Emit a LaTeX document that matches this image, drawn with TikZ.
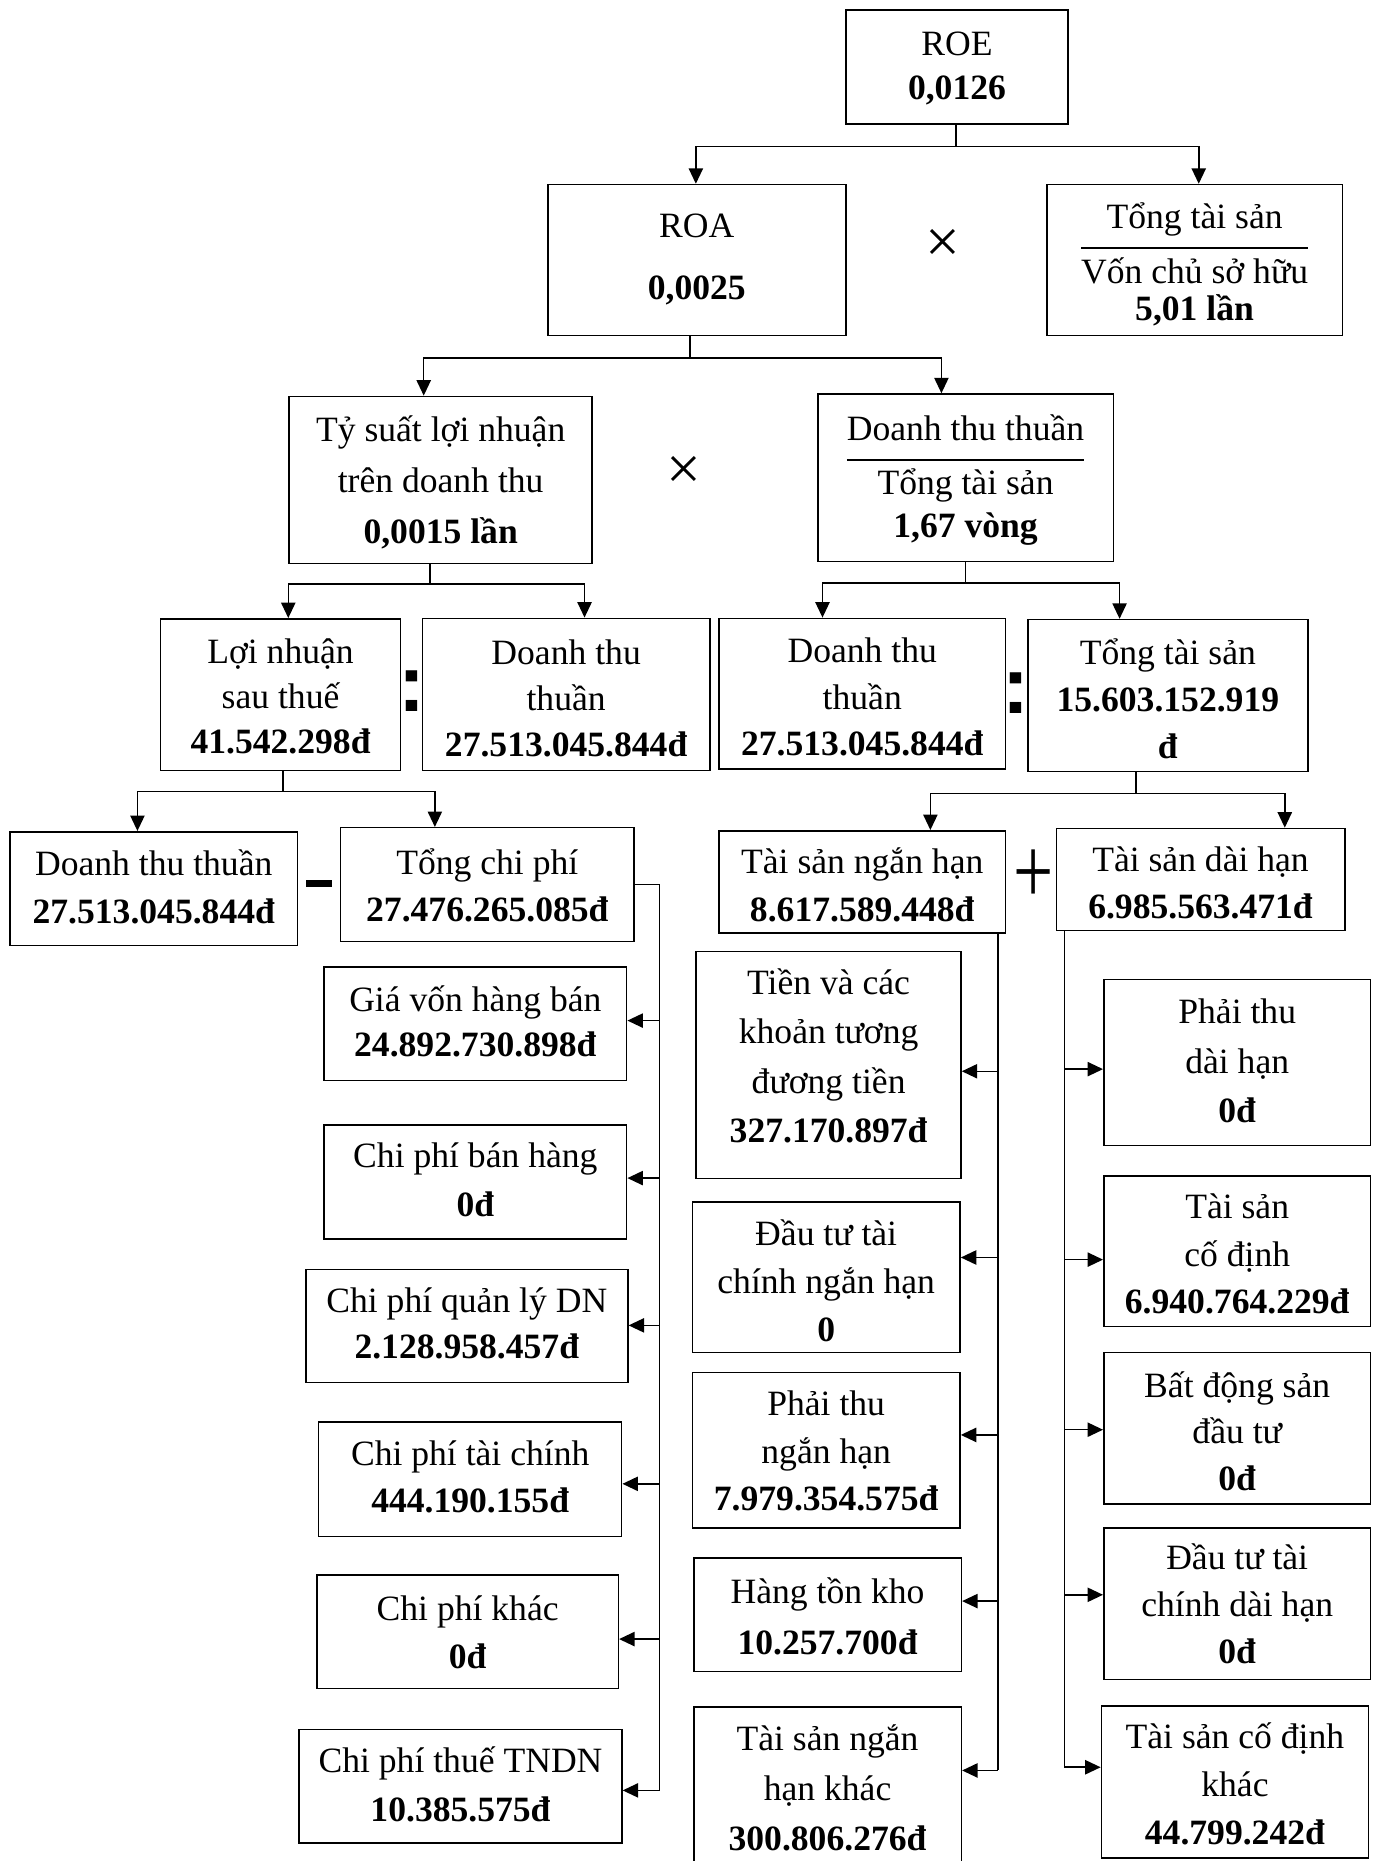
\documentclass[tikz,border=0pt]{standalone}
\usepackage{fontspec}
\setmainfont{Liberation Serif}
\newfontfamily\sansfnt{Liberation Sans}
\usepackage{graphicx}
\usetikzlibrary{arrows.meta}
\renewcommand{\arraystretch}{0}
\newcommand{\fs}[1]{\fontsize{15}{#1}\selectfont}
\newcommand{\nb}[1]{\textbf{#1}}
\tikzset{
 box/.style={draw, line width=0.65pt, inner sep=0pt, align=center, font=\fs{20}},
 ln/.style={line width=0.65pt},
 arr/.style={line width=0.65pt, -{Triangle[length=6.5pt,width=6pt]}},
 sym/.style={inner sep=0pt},
 colon/.style={inner sep=0pt, font=\fontsize{34}{34}\selectfont\sansfnt\bfseries},
}
% name, x1, y1, x2, y2, first baseline, lines, line spacing, text
\newcommand{\bx}[9]{%
 \pgfmathsetmacro{\bxk}{#6-(#3+#5)/2+(#7-1)*#8}%
 \pgfmathsetmacro{\bxA}{max(15,\bxk+1)}%
 \pgfmathsetmacro{\bxD}{\bxA-\bxk}%
 \node[box,font=\fs{#8},minimum width={(#4-#2)*0.5pt},minimum height={(#5-#3)*0.5pt}] (#1) at ({(#2+#4)/2},{(#3+#5)/2}) {\rule{0pt}{\bxA pt}#9\rule[-\bxD pt]{0pt}{\bxD pt}};}
\begin{document}
\begin{tikzpicture}[x=0.5pt,y=-0.5pt]
\useasboundingbox (0,0) rectangle (1164,1568);
% level 1
\bx{roe}{712.6}{8.4}{900}{104.3}{46.6}{2}{18.5}{ROE\\\nb{0,0126}}
% level 2
\bx{roa}{461.5}{155.5}{712.6}{282.8}{200}{2}{26}{ROA\\\nb{0,0025}}
\node[box,minimum width={249*0.5pt},minimum height={127.3*0.5pt}] (tts1) at (1006.5,219.15) {\setlength{\arrayrulewidth}{1pt}\begin{tabular}{@{}c@{}}
\smash{Tổng tài sản}\rule[-7.5pt]{0pt}{21pt}\\\hline
\smash{Vốn chủ sở hữu}\rule[-4pt]{0pt}{18.3pt}\\
\smash{\textbf{5,01 lần}}\rule[-1pt]{0pt}{13pt}\end{tabular}};
\node[sym,font=\fontsize{26}{26}\selectfont] (x1) at (794.8,207.5) {×};
% level 3
\bx{tys}{243.6}{334}{499}{474.6}{372}{3}{21.5}{Tỷ suất lợi nhuận\\trên doanh thu\\\nb{0,0015 lần}}
\node[box,minimum width={249*0.5pt},minimum height={141*0.5pt}] (dtt) at (813.5,402.5) {\setlength{\arrayrulewidth}{1pt}\begin{tabular}{@{}c@{}}
\smash{Doanh thu thuần}\rule[-7.5pt]{0pt}{20pt}\\\hline
\smash{Tổng tài sản}\rule[-5pt]{0pt}{19pt}\\
\smash{\textbf{1,67 vòng}}\rule[-3pt]{0pt}{16pt}\end{tabular}};
\node[sym,font=\fontsize{26}{26}\selectfont] (x2) at (576.6,398.6) {×};
% level 4
\bx{lnst}{135.3}{521.4}{337.5}{649}{558.7}{3}{19}{Lợi nhuận\\sau thuế\\\nb{41.542.298đ}}
\node[colon] (c1) at (346.7,582.7) {:};
\bx{dt1}{356}{521}{598}{649}{559.5}{3}{19.5}{Doanh thu\\thuần\\\nb{27.513.045.844đ}}
\bx{dt2}{606}{521}{847}{648}{558.4}{3}{19.5}{Doanh thu\\thuần\\\nb{27.513.045.844đ}}
\node[colon] (c2) at (856.3,583.6) {:};
\bx{tts2}{866}{522}{1102}{650}{559.5}{3}{19.8}{Tổng tài sản\\\nb{15.603.152.919}\\\nb{đ}}
% level 5
\bx{dt3}{8.3}{700.8}{250.8}{796.8}{737.6}{2}{20.15}{Doanh thu thuần\\\nb{27.513.045.844đ}}
\node[sym] (m1) at (269,744.4) {\rule{11pt}{2.8pt}};
\bx{tcp}{286.9}{697.4}{534.3}{793.4}{736.5}{2}{20}{Tổng chi phí\\\nb{27.476.265.085đ}}
\bx{tsnh}{606}{700}{847}{786}{735.8}{2}{20.1}{Tài sản ngắn hạn\\\nb{8.617.589.448đ}}
\node[sym,font=\fontsize{40}{40}\selectfont] (p1) at (871,739) {\scalebox{0.75}[1]{+}};
\bx{tsdh}{890}{698}{1133}{784}{734.1}{2}{19.7}{Tài sản dài hạn\\\nb{6.985.563.471đ}}
% expenses
\bx{gv}{273}{814.7}{528}{910.5}{852.4}{2}{18.75}{Giá vốn hàng bán\\\nb{24.892.730.898đ}}
\bx{cpbh}{273}{948}{528}{1044}{983.8}{2}{20.75}{Chi phí bán hàng\\\nb{0đ}}
\bx{qldn}{257.6}{1069.7}{529}{1165}{1106}{2}{19.25}{Chi phí quản lý DN\\\nb{2.128.958.457đ}}
\bx{cptc}{268.5}{1198.3}{523.8}{1294.5}{1234.5}{2}{19.75}{Chi phí tài chính\\\nb{444.190.155đ}}
\bx{cpk}{267}{1327}{521}{1422.6}{1365}{2}{20.6}{Chi phí khác\\\nb{0đ}}
\bx{tndn}{252}{1457}{524}{1553}{1493}{2}{20.7}{Chi phí thuế TNDN\\\nb{10.385.575đ}}
% short-term assets
\bx{tien}{586.6}{801.8}{809.7}{992.8}{837.6}{4}{20.9}{Tiền và các\\khoản tương\\đương tiền\\\nb{327.170.897đ}}
\bx{dtnh}{583.3}{1012.8}{808.9}{1139.6}{1049.3}{3}{20.2}{Đầu tư tài\\chính ngắn hạn\\\nb{0}}
\bx{pthn}{583.3}{1156.5}{808.9}{1287.3}{1192.9}{3}{20}{Phải thu\\ngắn hạn\\\nb{7.979.354.575đ}}
\bx{htk}{584.5}{1312.8}{810}{1408.3}{1351.3}{2}{21.45}{Hàng tồn kho\\\nb{10.257.700đ}}
\bx{tsnhk}{584.5}{1438}{810}{1585}{1474.8}{3}{21}{Tài sản ngắn\\hạn khác\\\nb{300.806.276đ}}
% long-term assets
\bx{ptdh}{930}{825.4}{1154.8}{965.3}{862.4}{3}{20.85}{Phải thu\\dài hạn\\\nb{0đ}}
\bx{tscd}{930}{991}{1154.8}{1117.7}{1026.7}{3}{20}{Tài sản\\cố định\\\nb{6.940.764.229đ}}
\bx{bdsdt}{930}{1139.6}{1154.8}{1267.3}{1177.1}{3}{19.7}{Bất động sản\\đầu tư\\\nb{0đ}}
\bx{dtdh}{930}{1287.6}{1154.8}{1415}{1322}{3}{19.8}{Đầu tư tài\\chính dài hạn\\\nb{0đ}}
\bx{tscdk}{928}{1437.3}{1153}{1565.4}{1473.4}{3}{20.25}{Tài sản cố định\\khác\\\nb{44.799.242đ}}
% connectors
\coordinate (j1) at (805.3,123.3);
\draw[ln] (roe.south -| j1) -- (j1);
\draw[arr] (j1) -| (roa.north -| 586.3,0);
\draw[arr] (j1) -| (tts1.north -| 1010,0);
\coordinate (j2) at (581.5,301.7);
\draw[ln] (roa.south -| j2) -- (j2);
\draw[arr] (j2) -| (tys.north -| 357,0);
\draw[arr] (j2) -| (dtt.north -| 793.2,0);
\coordinate (j3) at (362.5,492.2);
\draw[ln] (tys.south -| j3) -- (j3);
\draw[arr] (j3) -| (lnst.north -| 242.9,0);
\draw[arr] (j3) -| (dt1.north -| 492.5,0);
\coordinate (j4) at (813.3,491.2);
\draw[ln] (dtt.south -| j4) -- (j4);
\draw[arr] (j4) -| (dt2.north -| 693,0);
\draw[arr] (j4) -| (tts2.north -| 943.3,0);
\coordinate (j5) at (238.6,666.8);
\draw[ln] (lnst.south -| j5) -- (j5);
\draw[arr] (j5) -| (dt3.north -| 115.8,0);
\draw[arr] (j5) -| (tcp.north -| 366.4,0);
\coordinate (j6) at (957.3,668.7);
\draw[ln] (tts2.south -| j6) -- (j6);
\draw[arr] (j6) -| (tsnh.north -| 783.9,0);
\draw[arr] (j6) -| (tsdh.north -| 1082.5,0);
% expense bus
\coordinate (b1) at (555.7,745.2);
\draw[ln] (tcp.east |- b1) -- (b1) -- (b1 |- 0,1508.5);
\draw[arr] (b1 |- 0,859.9) -- (gv.east |- 0,859.9);
\draw[arr] (b1 |- 0,992.6) -- (cpbh.east |- 0,992.6);
\draw[arr] (b1 |- 0,1116.7) -- (qldn.east |- 0,1116.7);
\draw[arr] (b1 |- 0,1250.2) -- (cptc.east |- 0,1250.2);
\draw[arr] (b1 |- 0,1381) -- (cpk.east |- 0,1381);
\draw[arr] (b1 |- 0,1508.5) -- (tndn.east |- 0,1508.5);
% short-term bus
\coordinate (b2) at (840.8,786);
\draw[ln] (tsnh.south -| b2) -- (b2 |- 0,1491.7);
\draw[arr] (b2 |- 0,902.6) -- (tien.east |- 0,902.6);
\draw[arr] (b2 |- 0,1059.5) -- (dtnh.east |- 0,1059.5);
\draw[arr] (b2 |- 0,1209) -- (pthn.east |- 0,1209);
\draw[arr] (b2 |- 0,1349) -- (htk.east |- 0,1349);
\draw[arr] (b2 |- 0,1491.7) -- (tsnhk.east |- 0,1491.7);
% long-term bus
\coordinate (b3) at (896.8,784);
\draw[ln] (tsdh.south -| b3) -- (b3 |- 0,1489);
\draw[arr] (b3 |- 0,900.8) -- (ptdh.west |- 0,900.8);
\draw[arr] (b3 |- 0,1061.3) -- (tscd.west |- 0,1061.3);
\draw[arr] (b3 |- 0,1204.6) -- (bdsdt.west |- 0,1204.6);
\draw[arr] (b3 |- 0,1343.7) -- (dtdh.west |- 0,1343.7);
\draw[arr] (b3 |- 0,1489) -- (tscdk.west |- 0,1489);
\end{tikzpicture}
\end{document}
